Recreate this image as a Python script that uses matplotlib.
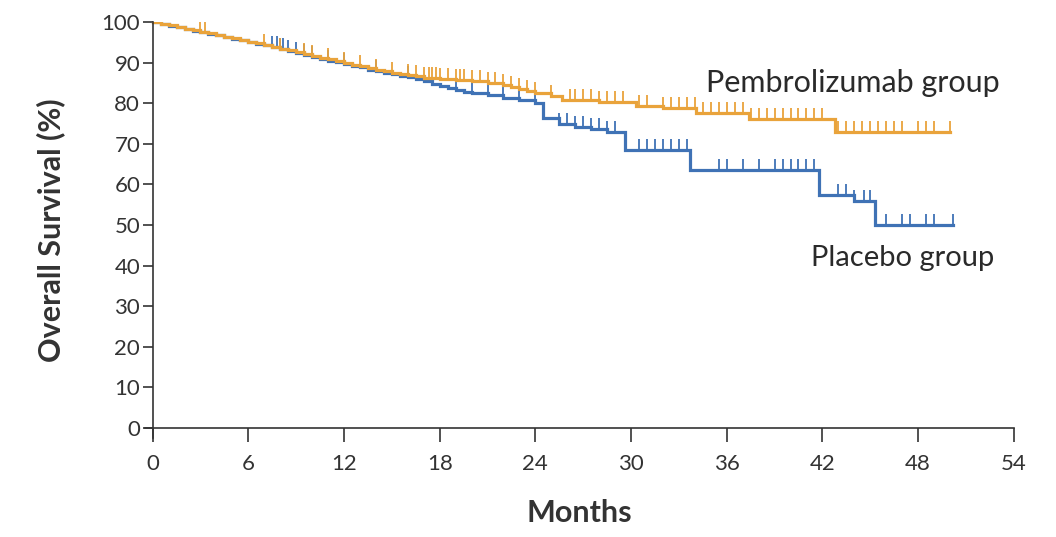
import matplotlib.pyplot as plt
import numpy as np

# Kaplan-Meier step points (months, % surviving) and censoring times
pembro_t = [0, 0.5, 1, 1.5, 2, 2.5, 3, 3.5, 4, 4.5, 5, 5.5, 6, 6.5, 7, 7.5, 8,
            8.5, 9, 9.5, 10, 10.5, 11, 11.5, 12, 12.5, 13, 13.5, 14, 14.5, 15,
            15.5, 16, 16.5, 17, 18, 19, 20, 21, 22, 22.5, 23, 23.5, 24, 25,
            25.7, 28, 30.3, 32, 34.1, 37.4, 42.8, 50.0]
pembro_s = [100, 99.6, 99.2, 98.8, 98.4, 98.0, 97.6, 97.2, 96.8, 96.4, 96.0,
            95.6, 95.2, 94.8, 94.3, 93.9, 93.4, 93.0, 92.5, 92.1, 91.6, 91.2,
            90.8, 90.3, 89.9, 89.5, 89.1, 88.7, 88.3, 87.9, 87.5, 87.2, 86.9,
            86.6, 86.3, 86.0, 85.7, 85.4, 85.0, 84.4, 84.0, 83.6, 83.1, 82.6,
            81.8, 80.8, 80.4, 79.3, 78.8, 77.6, 76.0, 72.9, 72.9]
pembro_cens = [3, 3.3, 7, 8, 9.5, 10, 11, 12, 13, 14, 15, 16, 16.5, 17, 17.3,
               17.5, 17.8, 18, 18.5, 19, 19.3, 19.5, 20, 20.5, 21, 21.5, 22,
               22.5, 23, 23.5, 24, 25, 26.2, 26.5, 27, 27.5, 28, 28.5, 29, 29.5,
               30.5, 31, 32, 32.5, 33, 33.5, 34, 34.5, 35, 35.5, 36, 36.5, 37,
               37.5, 38, 38.5, 39, 39.5, 40, 40.5, 41, 41.5, 42, 43, 43.5, 44,
               44.5, 45, 45.5, 46, 46.5, 47, 48, 48.5, 49, 50.0]

placebo_t = [0, 0.5, 1, 1.5, 2, 2.5, 3, 3.5, 4, 4.5, 5, 5.5, 6, 6.5, 7, 7.5, 8,
             8.5, 9, 9.5, 10, 10.5, 11, 11.5, 12, 12.5, 13, 13.5, 14, 14.5, 15,
             15.5, 16, 16.5, 17, 17.5, 18, 18.5, 19, 19.5, 20, 21, 22, 23, 24,
             24.5, 25.5, 26.5, 27.5, 28.5, 29.6, 33.7, 41.8, 44.0, 45.3, 50.2]
placebo_s = [100, 99.6, 99.1, 98.7, 98.3, 97.9, 97.5, 97.1, 96.7, 96.3, 95.9,
             95.5, 95.1, 94.7, 94.3, 93.9, 93.4, 92.9, 92.4, 91.9, 91.4, 91.0,
             90.5, 90.1, 89.6, 89.2, 88.8, 88.3, 87.9, 87.5, 87.1, 86.8, 86.4,
             86.0, 85.4, 84.8, 84.2, 83.7, 83.2, 82.8, 82.5, 82.0, 81.4, 80.8,
             80.0, 76.4, 74.8, 74.2, 73.6, 72.8, 68.6, 63.6, 57.3, 55.8, 50.0,
             50.0]
placebo_cens = [7.5, 7.8, 8.0, 8.2, 8.5, 9, 9.5, 10, 11, 12, 14, 16, 19, 20,
                21, 22, 23, 24, 25.5, 26, 26.5, 27, 27.5, 28, 28.5, 29, 30.5,
                31, 31.5, 32, 32.5, 33, 33.5, 35.5, 36, 37, 38, 39, 39.5, 40,
                40.5, 41, 41.5, 43, 43.5, 44, 44.6, 45, 46, 47, 47.5, 48.5, 49,
                50.2]

x_ticks = [0, 6, 12, 18, 24, 30, 36, 42, 48, 54]
y_ticks = [0, 10, 20, 30, 40, 50, 60, 70, 80, 90, 100]

orange = '#E9A33B'
blue = '#3F72B5'
ink = '#333333'

plt.rcParams['font.family'] = ['Lato', 'DejaVu Sans']

fig = plt.figure(figsize=(10.56, 5.37), dpi=100)
ax = fig.add_axes([0.137, 0.184, 0.823, 0.775])


def step_value(times, surv, t):
    idx = np.searchsorted(times, t, side='right') - 1
    return np.asarray(surv)[idx]


for t, s, cens, col in [(placebo_t, placebo_s, placebo_cens, blue),
                        (pembro_t, pembro_s, pembro_cens, orange)]:
    ax.step(t, s, where='post', color=col, lw=2.3, solid_joinstyle='miter')
    ax.plot(cens, step_value(t, s, cens), linestyle='none', marker=2,
            markersize=8, markeredgewidth=1.3, color=col)

ax.text(34.7, 85.0, 'Pembrolizumab group', fontsize=22, color='#2a2a2a',
        ha='left', va='center')
ax.text(41.3, 42.0, 'Placebo group', fontsize=21, color='#2a2a2a',
        ha='left', va='center')

ax.set_xlim(-0.5, 54)
ax.set_ylim(-2.5, 100)
ax.spines['left'].set_position(('data', 0))
ax.spines['bottom'].set_position(('data', 0))
for side in ['top', 'right']:
    ax.spines[side].set_visible(False)
for side in ['left', 'bottom']:
    ax.spines[side].set_linewidth(1.2)
    ax.spines[side].set_color(ink)

ax.set_xticks(x_ticks)
ax.set_yticks(y_ticks)
ax.tick_params(direction='out', width=1.2, color=ink,
               labelsize=16, labelcolor=ink)
ax.tick_params(axis='x', length=10, pad=9)
ax.tick_params(axis='y', length=7, pad=2)

ax.set_xlabel('Months', fontsize=22, fontweight='bold', color=ink, labelpad=18)
ax.set_ylabel('Overall Survival (%)', fontsize=22, fontweight='bold', color=ink,
              labelpad=26)

fig.savefig('out.png', dpi=100)
